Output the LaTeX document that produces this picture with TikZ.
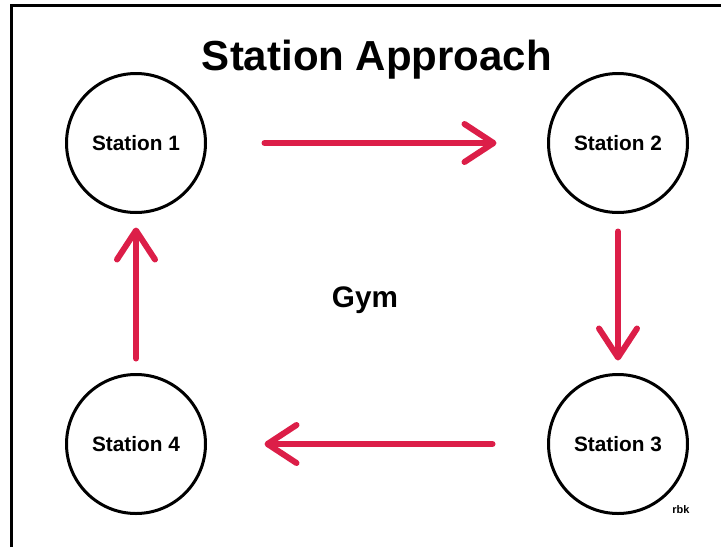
\documentclass[tikz,border=0pt]{standalone}
\usepackage{fontspec}
\setmainfont{Liberation Sans}
\usetikzlibrary{arrows.meta}
\definecolor{arrowred}{RGB}{220,30,72}
\tikzset{
  station/.style={circle, draw=black, line width=3pt, minimum size=139pt, inner sep=0pt, outer sep=0pt, font=\fontsize{20.8}{24}\selectfont\bfseries},
  flow/.style={draw=arrowred, line width=6pt, line cap=round, -{Straight Barb[length=29pt, width=38pt, round]}},
}

\begin{document}
\begin{tikzpicture}[x=1pt, y=-1pt]
			%%%%% START %%%%%
			\useasboundingbox (0,0) rectangle (721,547);
			
			\draw[line width=3pt] (11,547) -- (11,5.5) -- (721,5.5);
			
			\node[anchor=base, font=\fontsize{42}{48}\selectfont\bfseries] (title) at (377,70) {Station Approach};
			
			\node[station] (s1) at (136,143) {Station 1};
			\node[station] (s2) at (618,143) {Station 2};
			\node[station] (s3) at (618,444) {Station 3};
			\node[station] (s4) at (136,444) {Station 4};
			
			\node[anchor=base, font=\fontsize{29.7}{34}\selectfont\bfseries] (gym) at (365,307) {Gym};
			\node[anchor=base, font=\fontsize{11}{13}\selectfont\bfseries] (sig) at (681,513) {rbk};
			
			\draw[flow, shorten <=59pt, shorten >=52pt] (s1) -- (s2);
			\draw[flow, shorten <=19pt, shorten >=14pt] (s2) -- (s3);
			\draw[flow, shorten <=56pt, shorten >=59pt] (s3) -- (s4);
			\draw[flow, shorten <=16pt, shorten >=15pt] (s4) -- (s1);
			
			%%%%% END %%%%%
\end{tikzpicture}
\end{document}
